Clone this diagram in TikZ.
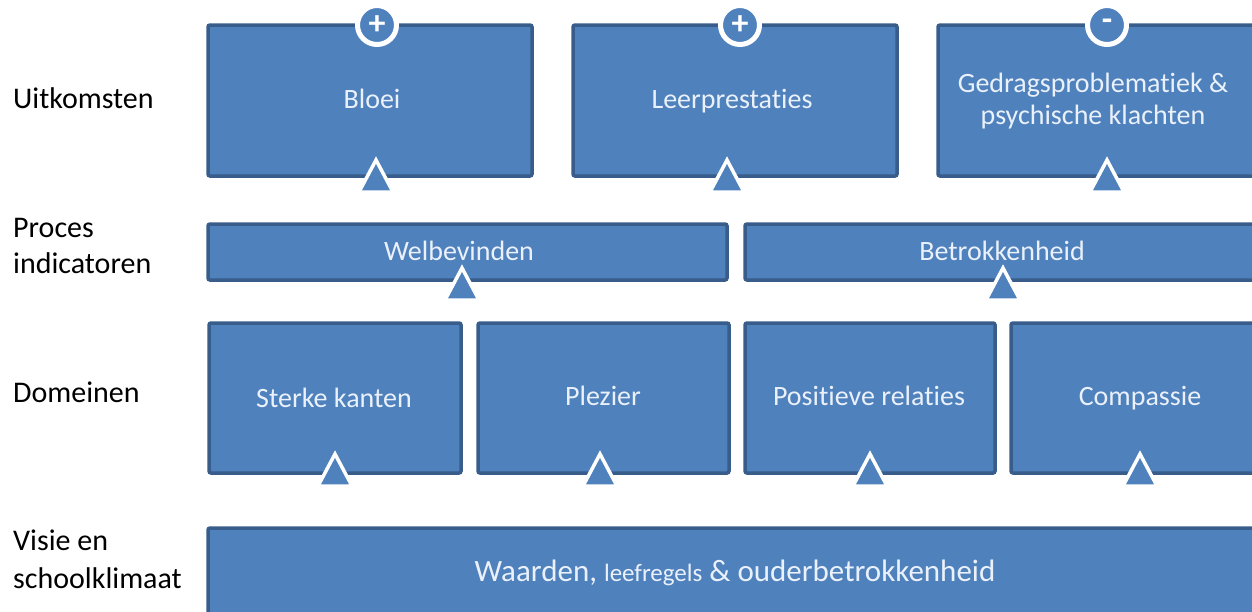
\documentclass[tikz,border=0pt]{standalone}
\usepackage{fontspec}
\setmainfont{Carlito}[Ligatures={NoCommon}]
\usetikzlibrary{calc}
\definecolor{boxfill}{HTML}{4F81BD}
\definecolor{boxline}{HTML}{385D8A}
\definecolor{boxtext}{HTML}{EAF1FA}
\begin{document}
\begin{tikzpicture}[x=1pt,y=-1pt,
  blk/.style={draw=boxline, fill=boxfill, line width=3.5pt, rounded corners=2pt,
              inner sep=0pt, outer sep=0pt, anchor=north west},
  btxt/.style={text=boxtext, font=\fontsize{28}{34}\selectfont, anchor=base, inner sep=0pt},
  side/.style={text=black, font=\fontsize{30}{37}\selectfont, anchor=base west, inner sep=0pt, align=left},
  tri/.style={fill=boxfill, draw=white, line width=3.5pt, line join=miter},
  sign/.style={circle, fill=boxfill, draw=white, line width=5pt, minimum size=39pt,
               inner sep=0pt, text=white, font=\fontsize{34}{34}\bfseries\selectfont}]
\useasboundingbox (0,0) rectangle (1252,611);
\clip (0,0) rectangle (1252,611);

% side labels
\node[side] (lU) at (13,108) {Uitkomsten};
\node[side] (lP1) at (13,237) {Proces};
\node[side] (lP2) at (13,273) {indicatoren};
\node[side] (lD) at (13,402) {Domeinen};
\node[side] (lV1) at (13,550) {Visie en};
\node[side] (lV2) at (13,588) {schoolklimaat};

% outcome boxes
\node[blk, minimum width=324pt, minimum height=151pt] (o1) at (208,25) {};
\node[blk, minimum width=324pt, minimum height=151pt] (o2) at (573,25) {};
\node[blk, minimum width=324pt, minimum height=151pt] (o3) at (938,25) {};
\node[btxt] (t1) at (372,108) {Bloei};
\node[btxt] (t2) at (732,108) {Leerprestaties};
\node[btxt] (t3a) at (1093,92) {Gedragsproblematiek \&};
\node[btxt] (t3b) at (1093,124) {psychische klachten};

% process boxes
\node[blk, minimum width=519pt, minimum height=56pt] (p1) at (208,224) {};
\node[blk, minimum width=519pt, minimum height=56pt] (p2) at (745,224) {};
\node[btxt] (tp1) at (459,260) {Welbevinden};
\node[btxt] (tp2) at (1002,260) {Betrokkenheid};

% domain boxes
\node[blk, minimum width=252pt, minimum height=150pt] (d1) at (209,323) {};
\node[blk, minimum width=251pt, minimum height=150pt] (d2) at (478,323) {};
\node[blk, minimum width=250pt, minimum height=150pt] (d3) at (745,323) {};
\node[blk, minimum width=250pt, minimum height=150pt] (d4) at (1011,323) {};
\node[btxt] (td1) at (334,407) {Sterke kanten};
\node[btxt] (td2) at (603,405) {Plezier};
\node[btxt] (td3) at (869,405) {Positieve relaties};
\node[btxt] (td4) at (1140,405) {Compassie};

% base box
\node[blk, minimum width=1060pt, minimum height=90pt] (v) at (208,528) {};
\node[btxt, font=\fontsize{31}{34}\selectfont] (tv) at (735,581)
  {Waarden, {\fontsize{25}{28}\selectfont leefregels}\ \& ouderbetrokkenheid};

% triangles
\foreach \x/\yb in {376/192, 727/192, 1107/192, 462/300, 1003/300, 335/486, 600/486, 870/486, 1140/486}{
  \filldraw[tri] (\x,\yb-32) -- (\x+17,\yb) -- (\x-17,\yb) -- cycle;
}

% sign circles
\node[sign] (s1) at (377,25) {+};
\node[sign] (s2) at (740,25) {+};
\node[sign] (s3) at (1107,25) {-};
\end{tikzpicture}
\end{document}
